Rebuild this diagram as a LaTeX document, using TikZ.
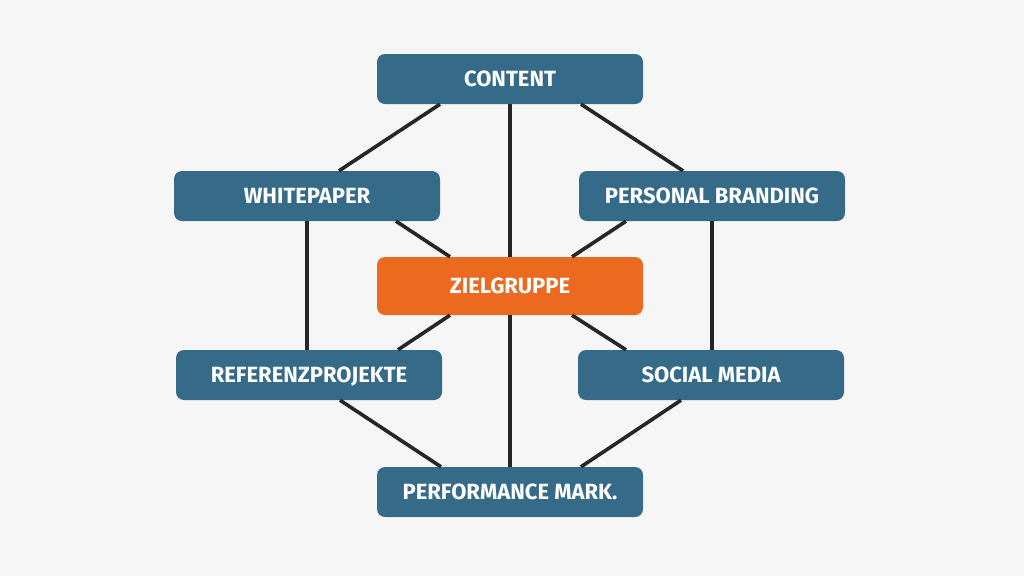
\documentclass[tikz,border=0pt]{standalone}
\usepackage{fontspec}
\setmainfont{Fira Sans}
\usepackage{tikz}
\definecolor{boxblue}{HTML}{356A89}
\definecolor{boxorange}{HTML}{EC6A1F}
\definecolor{bg}{HTML}{F6F6F6}
\definecolor{linegray}{HTML}{262626}

\begin{document}
\begin{tikzpicture}[x=1pt, y=-1pt,
    box/.style = {fill=boxblue, rounded corners=8pt, minimum width=266pt, minimum height=50pt,
                  text=white, font=\fontsize{22}{24}\selectfont\bfseries, inner sep=0pt,
                  text height=15.5pt, text depth=0.5pt},
    hub/.style = {box, fill=boxorange, minimum height=58pt},
    link/.style = {draw=linegray, line width=3.6pt}]
    \fill[bg] (0,0) rectangle (1024,576);
    \useasboundingbox (0,0) rectangle (1024,576);

    \node[box] (content) at (510,79) {CONTENT};
    \node[box] (whitepaper) at (307,196) {WHITEPAPER};
    \node[box] (branding) at (712,196) {PERSONAL BRANDING};
    \node[hub] (zielgruppe) at (510,286) {ZIELGRUPPE};
    \node[box] (referenz) at (309,375) {REFERENZPROJEKTE};
    \node[box] (social) at (711,375) {SOCIAL MEDIA};
    \node[box] (performance) at (510,492) {PERFORMANCE MARK.};

    % connectors between the boxes
    \draw[link] ([xshift=-70pt]content.south) -- ([xshift=32pt]whitepaper.north);
    \draw[link] ([xshift=71pt]content.south) -- ([xshift=-29pt]branding.north);
    \draw[link] (content.south) -- (zielgruppe.north);
    \draw[link] ([xshift=89pt]whitepaper.south) -- ([xshift=-60pt]zielgruppe.north);
    \draw[link] ([xshift=-86pt]branding.south) -- ([xshift=62pt]zielgruppe.north);
    \draw[link] (whitepaper.south) -- (whitepaper.south |- referenz.north);
    \draw[link] (branding.south) -- (branding.south |- social.north);
    \draw[link] ([xshift=-60pt]zielgruppe.south) -- ([xshift=89pt]referenz.north);
    \draw[link] ([xshift=62pt]zielgruppe.south) -- ([xshift=-85pt]social.north);
    \draw[link] ([xshift=31pt]referenz.south) -- ([xshift=-69pt]performance.north);
    \draw[link] ([xshift=-30pt]social.south) -- ([xshift=71pt]performance.north);
    \draw[link] (zielgruppe.south) -- (performance.north);
\end{tikzpicture}
\end{document}
